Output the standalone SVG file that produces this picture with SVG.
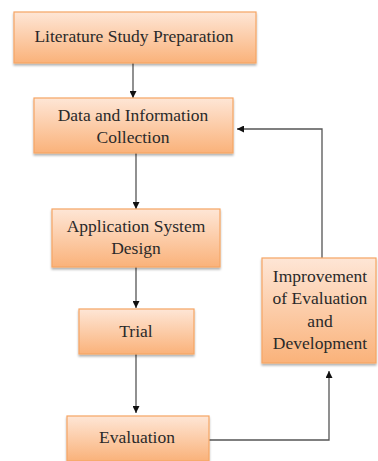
<svg xmlns="http://www.w3.org/2000/svg" width="378" height="461" viewBox="0 0 378 461">
<style>
.box{fill:url(#g);stroke:#f6a564;stroke-width:1.2;filter:url(#sh)}
.t{font-size:17.5px;fill:#2a2a2a;text-anchor:middle}
.c{fill:none;stroke:#555;stroke-width:1.3}
</style>
<defs>
<linearGradient id="g" x1="0" y1="0" x2="0" y2="1">
<stop offset="0" stop-color="#fee6d6"/>
<stop offset="1" stop-color="#fab27a"/>
</linearGradient>
<filter id="sh" x="-10%" y="-10%" width="120%" height="130%">
<feDropShadow dx="0" dy="2" stdDeviation="1.2" flood-color="#000" flood-opacity="0.3"/>
</filter>
<marker id="a" viewBox="0 0 10 10" refX="10" refY="5" markerWidth="7" markerHeight="7" orient="auto" markerUnits="userSpaceOnUse">
<path d="M0,0 L10,5 L0,10 z" fill="#111"/>
</marker>
</defs>
<g id="connectors">
<path class="c" d="M133,63 V98" marker-end="url(#a)"/>
<path class="c" d="M136,153 V209" marker-end="url(#a)"/>
<path class="c" d="M136,267 V308" marker-end="url(#a)"/>
<path class="c" d="M136,354 V413" marker-end="url(#a)"/>
<path class="c" d="M209,440 H329 V371" marker-end="url(#a)"/>
<path class="c" d="M322,258 V129 H237" marker-end="url(#a)"/>
</g>
<g font-family="'Liberation Serif', 'DejaVu Serif', serif">
<g id="n1"><rect class="box" x="14" y="12" width="242" height="51"/><text class="t" x="134" y="42">Literature Study Preparation</text></g>
<g id="n2"><rect class="box" x="34" y="98" width="199" height="55"/><text class="t" x="133" y="121">Data and Information</text><text class="t" x="133" y="143">Collection</text></g>
<g id="n3"><rect class="box" x="52" y="209" width="168" height="58"/><text class="t" x="136" y="232">Application System</text><text class="t" x="136" y="254">Design</text></g>
<g id="n4"><rect class="box" x="79" y="309" width="115" height="45"/><text class="t" x="136" y="337">Trial</text></g>
<g id="n5"><rect class="box" x="67" y="416" width="142" height="45"/><text class="t" x="137" y="443">Evaluation</text></g>
<g id="n6"><rect class="box" x="262" y="258" width="114" height="105"/><text class="t" x="320" y="282">Improvement</text><text class="t" x="320" y="304">of Evaluation</text><text class="t" x="320" y="327">and</text><text class="t" x="320" y="349">Development</text></g>
</g>
</svg>
